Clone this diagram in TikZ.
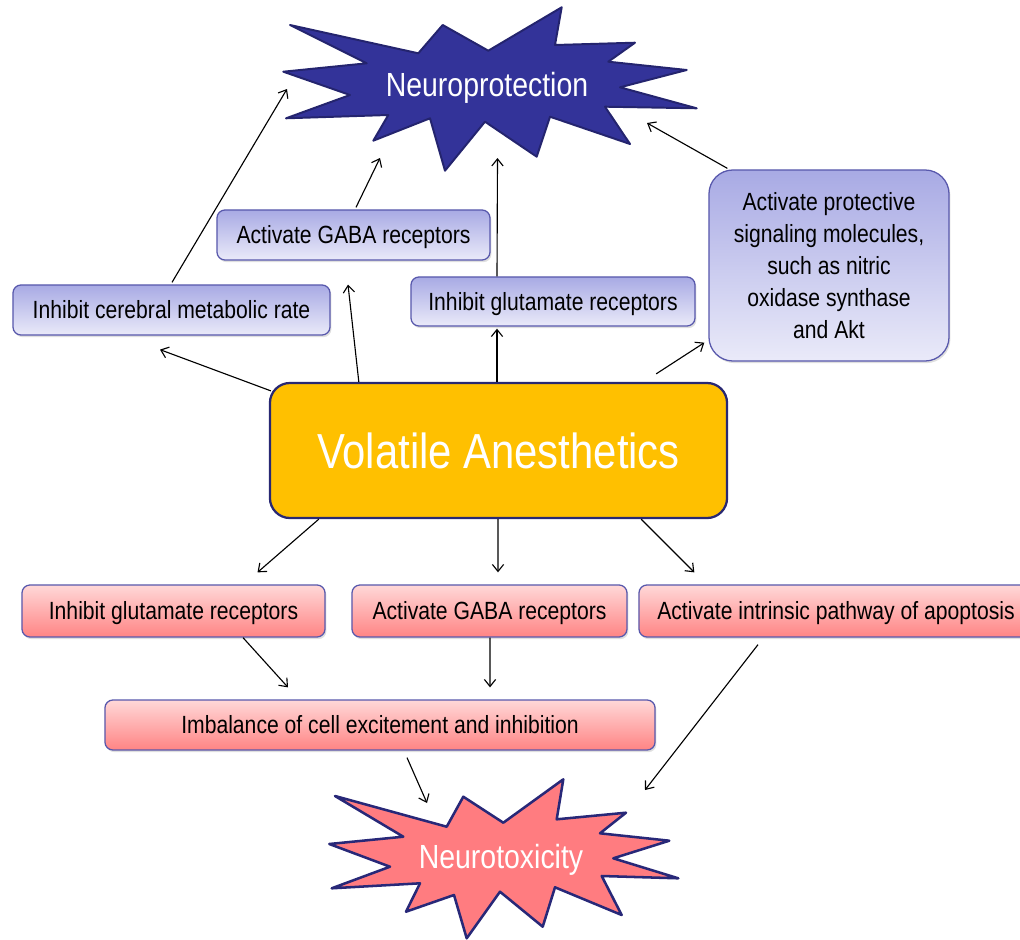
\documentclass[tikz,border=0pt]{standalone}
\usepackage{fontspec}
\setmainfont{Liberation Sans}[FakeStretch=0.85]
\usetikzlibrary{arrows.meta, shadows}

\definecolor{npblue}{RGB}{51,51,153}
\definecolor{npedge}{RGB}{36,36,110}
\definecolor{ntpink}{RGB}{255,124,128}
\definecolor{ntedge}{RGB}{40,40,120}
\definecolor{vagold}{RGB}{255,192,0}
\definecolor{vaedge}{RGB}{40,40,115}
\definecolor{boxedge}{RGB}{88,88,172}
\definecolor{lavtop}{RGB}{168,170,228}
\definecolor{lavbot}{RGB}{234,234,249}
\definecolor{rosetop}{RGB}{255,216,216}
\definecolor{rosebot}{RGB}{255,132,132}

\begin{document}
\begin{tikzpicture}[x=0.025cm, y=-0.025cm, >={Straight Barb[length=5pt,width=8pt]},
  line width=0.8pt,
  shadebox/.style={draw=boxedge, line width=0.9pt, rounded corners=0.2cm, inner sep=0pt,
    drop shadow={opacity=0.25, shadow xshift=1pt, shadow yshift=-1.5pt},
    font=\fontsize{17.7}{22.8}\selectfont},
  oneline/.style={text height=16.8pt, text depth=4.1pt},
  upbox/.style={shadebox, top color=lavtop, bottom color=lavbot},
  lowbox/.style={shadebox, oneline, top color=rosetop, bottom color=rosebot},
  burst/.style={text=white, font=\fontsize{23.8}{28}\selectfont, inner sep=0pt}]
  \useasboundingbox (0,0) rectangle (1020,940);
  \clip (0,0) rectangle (1020,940);

  % Neuroprotection burst
  \draw[draw=npedge, fill=npblue, line width=1.4pt, line join=round]
    (290,25) -- (418.3,53.3) -- (442.7,25) -- (488.3,50.7) -- (561.7,7.3) -- (555,45)
    -- (635,42.7) -- (608.3,61.7) -- (686.7,70) -- (620,87.3) -- (696.7,108.3)
    -- (605,106.7) -- (630,144) -- (550,116.7) -- (536.7,156.7) -- (485,121.7)
    -- (445,170.7) -- (430,118.3) -- (373.3,140.7) -- (388.3,115) -- (286,118.3)
    -- (350,95) -- (283.3,71.7) -- (366.7,63.3) -- cycle;
  \node[burst] (NP) at (487,88) {Neuroprotection};

  % Neurotoxicity burst
  \draw[draw=ntedge, fill=ntpink, line width=1.8pt, line join=round]
    (335,796) -- (446.7,826.7) -- (463.3,796.7) -- (503.3,822.7) -- (563.3,779.3)
    -- (556.7,819.3) -- (626,812.7) -- (600,833.3) -- (669.3,840.7) -- (613.3,858.3)
    -- (678.3,878.3) -- (601.7,876) -- (621.7,915) -- (555,887.3) -- (542.7,926.7)
    -- (500,891.7) -- (466.7,938.3) -- (454,895) -- (406,911.7) -- (420,883.3)
    -- (331.7,888.3) -- (390,866.7) -- (329.3,844) -- (403.3,836.7) -- cycle;
  \node[burst] (NT) at (501,860) {Neurotoxicity};

  % Volatile anesthetics
  \node[draw=vaedge, fill=vagold, line width=1.6pt, rounded corners=0.5cm,
    minimum width=11.425cm, minimum height=3.375cm, inner sep=0pt, text=white,
    font=\fontsize{35}{40}\selectfont] (VA) at (498.5,450.5) {Volatile Anesthetics};

  % upper boxes
  \node[upbox, oneline, minimum width=7.925cm, minimum height=1.25cm] (Umr) at (171.5,310)
    {Inhibit cerebral metabolic rate};
  \node[upbox, oneline, minimum width=6.825cm, minimum height=1.25cm] (Ugaba) at (353.5,235)
    {Activate GABA receptors};
  \node[upbox, oneline, minimum width=7.1cm, minimum height=1.225cm] (Uglu) at (553,301.5)
    {Inhibit glutamate receptors};
  \node[upbox, rounded corners=0.6cm, minimum width=6cm, minimum height=4.775cm,
    align=center] (Uprot) at (829,265.5)
    {Activate protective\\signaling molecules,\\such as nitric\\oxidase synthase\\and Akt};

  % lower boxes
  \node[lowbox, minimum width=7.575cm, minimum height=1.3cm] (Lglu) at (173.5,611)
    {Inhibit glutamate receptors};
  \node[lowbox, minimum width=6.875cm, minimum height=1.3cm] (Lgaba) at (489.5,611)
    {Activate GABA receptors};
  \node[lowbox, minimum width=9.85cm, minimum height=1.3cm] (Lapo) at (836,611)
    {Activate intrinsic pathway of apoptosis};
  \node[lowbox, minimum width=13.75cm, minimum height=1.25cm] (Limb) at (380,725)
    {Imbalance of cell excitement and inhibition};

  % arrows up
  \draw[->] ([shift={(2,9)}]VA.north west) -- ([shift={(-11.5,14)}]Umr.south);
  \draw[->] ([shift={(90,0)}]VA.north west) -- ([shift={(-5.5,24)}]Ugaba.south);
  \draw[->] ([shift={(-1.5,0)}]VA.north) -- ([shift={(-56,2)}]Uglu.south);
  \draw[->] ([shift={(-72,-8)}]VA.north east) -- ([shift={(-4,-19)}]Uprot.south west);
  \draw[->] ([shift={(0.5,-2)}]Umr.north) -- ([shift={(-200,1)}]NP.center);
  \draw[->] ([shift={(2.5,-2)}]Ugaba.north) -- ([shift={(-107,70)}]NP.center);
  \draw[->] ([shift={(-56,0)}]Uglu.north) -- ([shift={(10.5,70)}]NP.center);
  \draw[->] ([shift={(19,-1)}]Uprot.north west) -- ([shift={(160,35)}]NP.center);

  % arrows down
  \draw[->] ([shift={(50,0)}]VA.south west) -- ([shift={(84,-12)}]Lglu.north);
  \draw[->] ([shift={(-0.5,0)}]VA.south) -- ([shift={(8.5,-12)}]Lgaba.north);
  \draw[->] ([shift={(-87,0)}]VA.south east) -- ([shift={(56,-12)}]Lapo.north west);
  \draw[->] ([shift={(69.5,0)}]Lglu.south) -- ([shift={(-92,-12)}]Limb.north);
  \draw[->] ([shift={(0.5,0)}]Lgaba.south) -- ([shift={(110,-12)}]Limb.north);
  \draw[->] ([shift={(-78,7)}]Lapo.south) -- ([shift={(144,-70)}]NT.center);
  \draw[->] ([shift={(27,7)}]Limb.south) -- ([shift={(-74,-57)}]NT.center);
\end{tikzpicture}
\end{document}
